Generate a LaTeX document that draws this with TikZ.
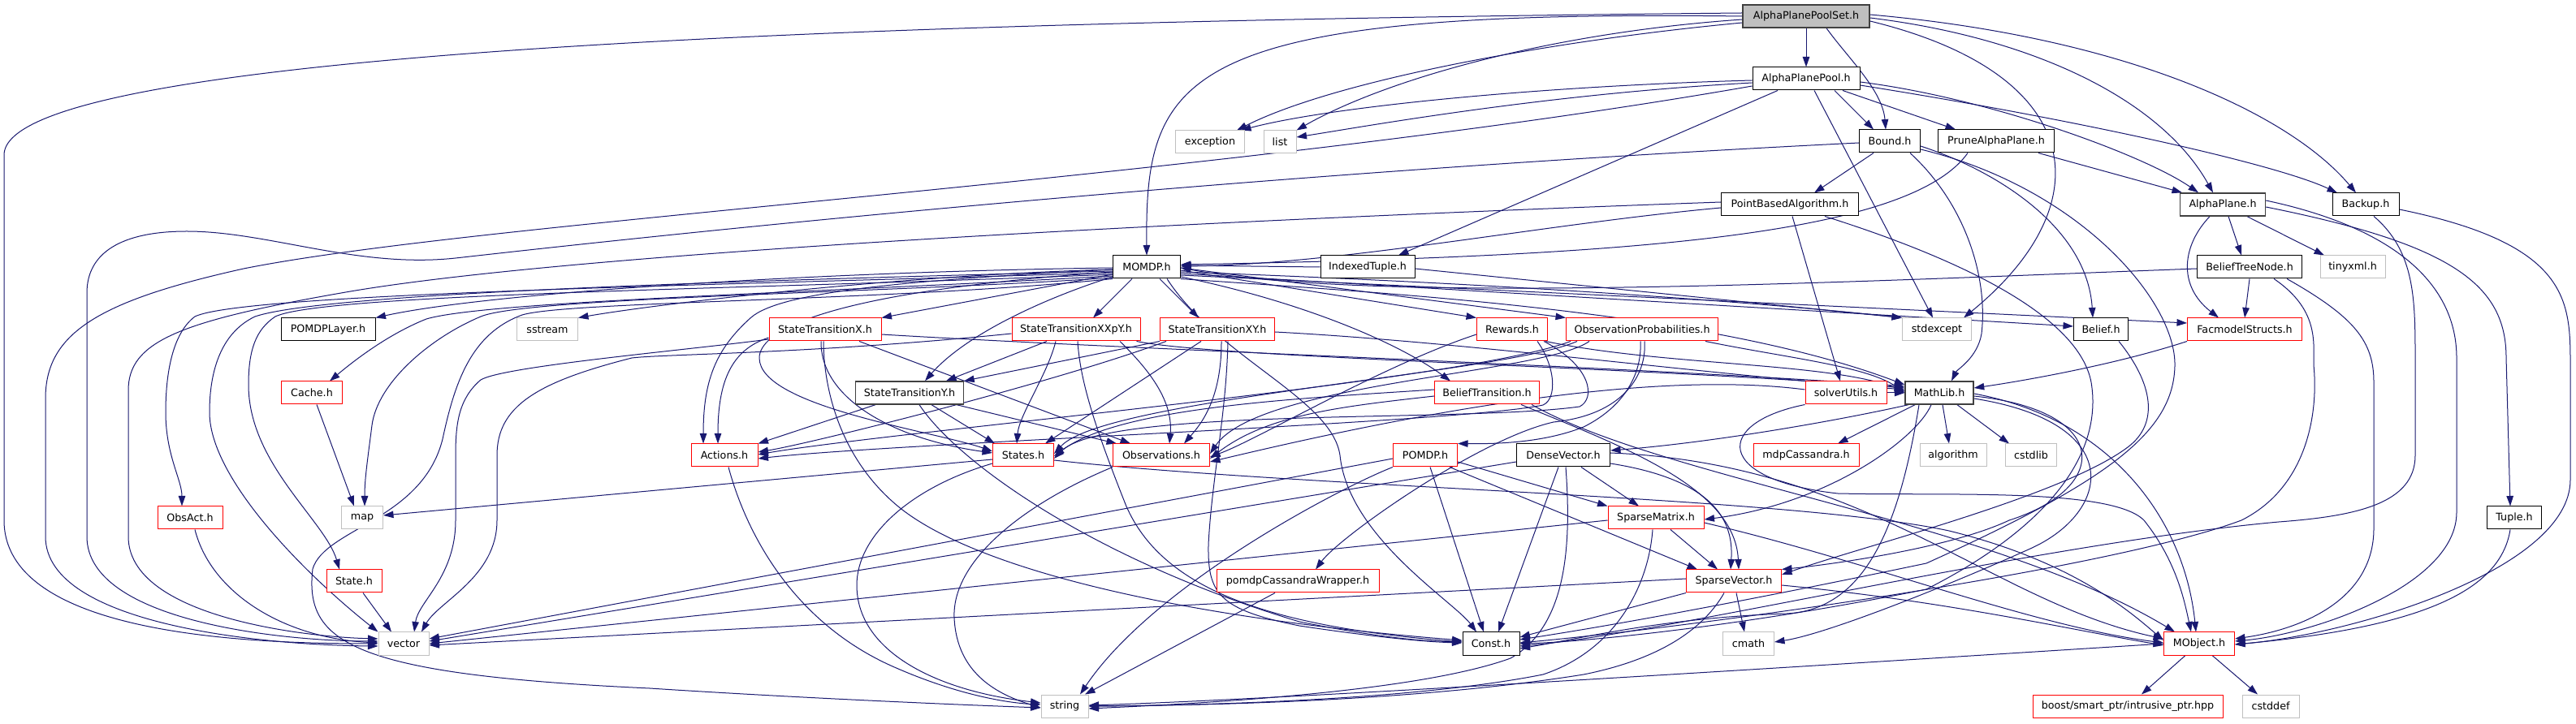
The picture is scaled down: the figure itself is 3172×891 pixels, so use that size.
\documentclass[tikz,border=0pt]{standalone}
\usepackage{fontspec}
\setmainfont{DejaVu Sans}
\usetikzlibrary{arrows.meta}
\definecolor{edgecol}{HTML}{191970}
\definecolor{grayb}{HTML}{BFBFBF}
\definecolor{redb}{HTML}{FF0000}
\definecolor{darkb}{HTML}{404040}
\pgfdeclarelayer{bg}
\pgfsetlayers{bg,main}
\begin{document}
\begin{tikzpicture}[x=1bp,y=1bp,
 box/.style={rectangle, minimum height=28bp, inner xsep=1bp, inner ysep=0bp, fill=white, line width=1bp, font=\fontsize{12.7bp}{15bp}\selectfont, text=black},
 nblk/.style={box, draw=black},
 ndrk/.style={box, draw=darkb, line width=1.4bp},
 nred/.style={box, draw=redb},
 ngry/.style={box, draw=grayb},
 nroot/.style={box, draw=darkb, fill=grayb, line width=1.4bp},
 edg/.style={draw=edgecol, line width=1bp, -{Triangle[length=12.5bp,width=8.5bp]}},
]
\useasboundingbox (0,0) rectangle (3172,891);
% ---------------- nodes ----------------
\node[nroot, minimum width=156bp] (root) at (2224,871) {AlphaPlanePoolSet.h};
\node[nblk, minimum width=132bp] (app) at (2224,794) {AlphaPlanePool.h};
\node[ngry, minimum width=85bp] (exc) at (1490,716) {exception};
\node[ngry, minimum width=40bp] (lst) at (1576,716) {list};
\node[nblk, minimum width=75bp] (bnd) at (2327,717) {Bound.h};
\node[nblk, minimum width=143bp] (pap) at (2458,717) {PruneAlphaPlane.h};
\node[nblk, minimum width=169bp] (pba) at (2204,639) {PointBasedAlgorithm.h};
\node[ndrk, minimum width=105bp] (ap) at (2737,639) {AlphaPlane.h};
\node[nblk, minimum width=82bp] (bk) at (2913,639) {Backup.h};
\node[nblk, minimum width=83bp] (momdp) at (1412,562) {MOMDP.h};
\node[nblk, minimum width=116bp] (itup) at (1684,562) {IndexedTuple.h};
\node[nblk, minimum width=129bp] (btn) at (2770,562) {BeliefTreeNode.h};
\node[ngry, minimum width=80bp] (txml) at (2897,562) {tinyxml.h};
\node[nblk, minimum width=116bp] (pl) at (404,485) {POMDPLayer.h};
\node[ngry, minimum width=75bp] (ss) at (674,485) {sstream};
\node[nred, minimum width=138bp] (stx) at (1016,485) {StateTransitionX.h};
\node[nred, minimum width=158bp] (stxxpy) at (1325,485) {StateTransitionXXpY.h};
\node[nred, minimum width=141bp] (stxy) at (1499,485) {StateTransitionXY.h};
\node[nred, minimum width=87bp] (rew) at (1862,485) {Rewards.h};
\node[nred, minimum width=187bp] (obsp) at (2022,485) {ObservationProbabilities.h};
\node[ngry, minimum width=85bp] (sexc) at (2385,485) {stdexcept};
\node[nblk, minimum width=67bp] (bel) at (2587,485) {Belief.h};
\node[nred, minimum width=141bp] (fac) at (2764,485) {FacmodelStructs.h};
\node[nred, minimum width=75bp] (cache) at (384,407) {Cache.h};
\node[ndrk, minimum width=133bp] (sty) at (1120,407) {StateTransitionY.h};
\node[nred, minimum width=129bp] (bt) at (1831,407) {BeliefTransition.h};
\node[nred, minimum width=100bp] (su) at (2273,407) {solverUtils.h};
\node[ndrk, minimum width=84bp] (ml) at (2388,407) {MathLib.h};
\node[nred, minimum width=82bp] (act) at (892,330) {Actions.h};
\node[nred, minimum width=75bp] (sts) at (1260,330) {States.h};
\node[nred, minimum width=119bp] (obs) at (1430,330) {Observations.h};
\node[nred, minimum width=79bp] (pomdp) at (1755,330) {POMDP.h};
\node[nblk, minimum width=115bp] (dv) at (1925,330) {DenseVector.h};
\node[nred, minimum width=130bp] (mdpc) at (2224,330) {mdpCassandra.h};
\node[ngry, minimum width=82bp] (alg) at (2405,330) {algorithm};
\node[ngry, minimum width=63bp] (cstdlib) at (2501,330) {cstdlib};
\node[nred, minimum width=80bp] (oa) at (234,253) {ObsAct.h};
\node[ngry, minimum width=51bp] (map) at (446,253) {map};
\node[nred, minimum width=118bp] (sm) at (2039,253) {SparseMatrix.h};
\node[nblk, minimum width=67bp] (tup) at (3096,253) {Tuple.h};
\node[nred, minimum width=68bp] (st) at (436,175) {State.h};
\node[nred, minimum width=200bp] (pcw) at (1598,175) {pomdpCassandraWrapper.h};
\node[nred, minimum width=117bp] (sv) at (2135,175) {SparseVector.h};
\node[ngry, minimum width=62bp] (vec) at (497,98) {vector};
\node[nblk, minimum width=70bp] (cst) at (1836,98) {Const.h};
\node[ngry, minimum width=63bp] (cm) at (2153,98) {cmath};
\node[nred, minimum width=87bp] (mo) at (2708,98) {MObject.h};
\node[ngry, minimum width=58bp] (str) at (1311,21) {string};
\node[nred, minimum width=234bp] (boost) at (2620,21) {boost/smart\_ptr/intrusive\_ptr.hpp};
\node[ngry, minimum width=70bp] (cdf) at (2796,21) {cstddef};
% ---------------- edges ----------------
\begin{pgfonlayer}{bg}
\fill[white] (0,0) rectangle (3172,891);
% root
\draw[edg] (root) -- (app);
\draw[edg] ([xshift=25bp]root.south) .. controls (2275,820) and (2318,780) .. ([xshift=-5bp]bnd.north);
\draw[edg] ([yshift=-8bp]root.west) .. controls (1900,840) and (1640,790) .. ([xshift=-10bp]exc.north east);
\draw[edg] ([yshift=-4bp]root.west) .. controls (1900,850) and (1700,790) .. (lst.north east);
\draw[edg] (root.west) .. controls (1450,880) and (1410,800) .. (momdp.north);
\draw[edg] ([yshift=4bp]root.west) .. controls (1100,865) and (5,830) .. (5,700) -- (5,250) .. controls (5,110) and (300,98) .. (vec.west);
\draw[edg] ([yshift=-6bp]root.east) .. controls (2570,800) and (2590,640) .. ([xshift=-10bp]sexc.north east);
\draw[edg] ([yshift=-2bp]root.east) .. controls (2500,845) and (2660,770) .. ([xshift=-12bp]ap.north);
\draw[edg] ([yshift=2bp]root.east) .. controls (2620,845) and (2820,750) .. ([xshift=-12bp]bk.north);
% app
\draw[edg] ([xshift=35bp]app.south) -- ([xshift=-20bp]bnd.north);
\draw[edg] ([yshift=-2bp]app.west) .. controls (1900,785) and (1640,760) .. ([xshift=-5bp]exc.north east);
\draw[edg] ([yshift=-5bp]app.west) .. controls (1900,775) and (1680,735) .. ([yshift=6bp]lst.east);
\draw[edg] ([yshift=-9bp]app.west) .. controls (1500,670) and (600,620) .. (300,560) .. controls (120,520) and (56,480) .. (56,400) -- (56,230) .. controls (56,120) and (330,96) .. ([yshift=-3bp]vec.west);
\draw[edg] ([xshift=10bp]app.south) -- ([xshift=-5bp]sexc.north);
\draw[edg] ([xshift=45bp]app.south) -- ([xshift=-50bp]pap.north);
\draw[edg] ([yshift=-4bp]app.east) .. controls (2450,770) and (2640,700) .. ([xshift=-30bp]ap.north);
\draw[edg] ([yshift=-8bp]app.east) .. controls (2550,745) and (2800,690) .. ([xshift=-35bp]bk.north);
\draw[edg] ([xshift=-35bp]app.south) -- ([xshift=38bp]itup.north);
% bnd
\draw[edg] ([xshift=-20bp]bnd.south) -- ([xshift=30bp]pba.north);
\draw[edg] ([yshift=-2bp]bnd.west) .. controls (1500,676) and (800,600) .. (561,573) .. controls (440,560) and (330,606) .. (230,606) .. controls (150,606) and (107,580) .. (107,530) -- (107,230) .. controls (107,125) and (350,101) .. ([yshift=3bp]vec.west);
\draw[edg] ([yshift=-6bp]bnd.east) .. controls (2460,680) and (2570,610) .. ([xshift=-10bp]bel.north);
\draw[edg] ([xshift=25bp]bnd.south) .. controls (2420,640) and (2448,550) .. (2440,480) .. controls (2435,450) and (2410,436) .. ([xshift=15bp]ml.north);
\draw[edg] ([yshift=-10bp]bnd.east) .. controls (2560,660) and (2680,520) .. (2678,440) .. controls (2676,360) and (2600,300) .. (2372,197) .. controls (2100,140) and (1950,115) .. ([yshift=5bp]cst.east);
% pap
\draw[edg] ([xshift=-35bp]pap.south) .. controls (2350,600) and (2000,575) .. ([yshift=3bp]momdp.east);
\draw[edg] ([xshift=52bp]pap.south) -- ([xshift=-50bp]ap.north);
% pba
\draw[edg] ([yshift=-4bp]pba.west) .. controls (1900,615) and (1650,565) .. ([yshift=1bp]momdp.east);
\draw[edg] ([yshift=3bp]pba.west) .. controls (1500,620) and (700,580) .. (420,530) .. controls (220,495) and (158,470) .. (158,410) -- (158,230) .. controls (158,130) and (380,106) .. ([yshift=6bp]vec.west);
\draw[edg] ([xshift=3bp]pba.south) -- ([xshift=-7bp]su.north);
\draw[edg] ([xshift=43bp]pba.south) .. controls (2420,570) and (2560,500) .. (2575,420) .. controls (2590,330) and (2520,240) .. (2372,165) .. controls (2150,120) and (1950,100) .. (cst.east);
% ap
\draw[edg] ([xshift=7bp]ap.south) -- ([xshift=-10bp]btn.north);
\draw[edg] ([xshift=30bp]ap.south) -- ([xshift=-35bp]txml.north);
\draw[edg] ([xshift=-16bp]ap.south) .. controls (2688,590) and (2680,540) .. ([xshift=-32bp]fac.north);
\draw[edg] ([yshift=5bp]ap.east) .. controls (2950,610) and (3025,540) .. (3025,450) -- (3025,260) .. controls (3025,170) and (2850,110) .. ([yshift=3bp]mo.east);
\draw[edg] ([yshift=-3bp]ap.east) .. controls (3020,590) and (3086,540) .. (3086,450) -- ([xshift=-5bp]tup.north);
% bk
\draw[edg] ([yshift=-6bp]bk.east) .. controls (3165,590) and (3165,520) .. (3165,440) -- (3165,300) .. controls (3165,190) and (2900,110) .. ([yshift=-1bp]mo.east);
\draw[edg] ([xshift=10bp]bk.south) .. controls (2975,580) and (2974,520) .. (2974,441) -- (2974,330) .. controls (2974,270) and (2900,255) .. (2806,248) .. controls (2500,220) and (2050,110) .. ([yshift=-3bp]cst.east);
% btn
\draw[edg] ([yshift=-2bp]btn.west) .. controls (2300,545) and (1700,515) .. ([yshift=-1bp]momdp.east);
\draw[edg] (btn.south) -- (fac.north);
\draw[edg] ([xshift=30bp]btn.south) .. controls (2855,510) and (2849,470) .. (2849,441) .. controls (2855,380) and (2840,290) .. (2760,250) .. controls (2600,190) and (2100,120) .. ([yshift=1bp]cst.east);
\draw[edg] ([xshift=46bp]btn.south) .. controls (2900,500) and (2923,470) .. (2923,420) -- (2923,240) .. controls (2923,150) and (2830,115) .. ([yshift=6bp]mo.east);
% momdp
\draw[edg] ([yshift=-1bp]momdp.west) .. controls (1000,556) and (600,530) .. (pl.north east);
\draw[edg] ([yshift=-3bp]momdp.west) .. controls (1100,552) and (800,515) .. (ss.north east);
\draw[edg] ([yshift=-5bp]momdp.west) .. controls (900,545) and (400,530) .. (314,501) .. controls (270,480) and (258,430) .. (258,383) .. controls (258,300) and (380,180) .. (vec.north west);
\draw[edg] ([yshift=-7bp]momdp.west) .. controls (900,540) and (300,530) .. (240,501) .. controls (212,480) and (204,430) .. (204,383) .. controls (204,330) and (224,300) .. ([xshift=-10bp]oa.north);
\draw[edg] ([yshift=-9bp]momdp.west) .. controls (950,535) and (400,530) .. (339,501) .. controls (315,485) and (306,460) .. (306,417) .. controls (306,320) and (400,250) .. ([xshift=-18bp]st.north);
\draw[edg] ([yshift=-11bp]momdp.west) .. controls (1000,530) and (600,520) .. (525,498) .. controls (480,480) and (440,450) .. ([xshift=22bp]cache.north);
\draw[edg] ([yshift=-13bp]momdp.west) .. controls (1100,530) and (650,525) .. (592,501) .. controls (530,475) and (465,420) .. (458,367) .. controls (452,320) and (449,300) .. ([xshift=3bp]map.north);
\draw[edg] (momdp.south west) .. controls (1100,520) and (700,520) .. (643,503) .. controls (580,480) and (560,420) .. (545,350) .. controls (520,250) and (400,240) .. (385,190) .. controls (375,100) and (430,60) .. (800,43) .. controls (1000,30) and (1200,22) .. ([yshift=-2bp]str.west);
\draw[edg] ([yshift=-9bp]momdp.west) -- (stx.north east);
\draw[edg] ([xshift=-18bp]momdp.south) -- ([xshift=21bp]stxxpy.north);
\draw[edg] ([xshift=16bp]momdp.south) -- ([xshift=-23bp]stxy.north);
\draw[edg] ([yshift=-12bp]momdp.west) .. controls (1290,525) and (1190,480) .. ([xshift=19bp]sty.north);
\draw[edg] ([yshift=-3bp]momdp.west) .. controls (1100,545) and (960,530) .. (925,500) .. controls (880,460) and (866,420) .. ([xshift=-26bp]act.north);
\draw[edg] ([yshift=-6bp]momdp.west) .. controls (1000,530) and (935,480) .. (935,450) .. controls (935,390) and (1150,360) .. ([yshift=5bp]sts.west);
\draw[edg] ([yshift=-4bp]momdp.east) -- (rew.north west);
\draw[edg] ([yshift=-1bp]momdp.east) -- (obsp.north west);
\draw[edg] ([yshift=-6bp]momdp.east) .. controls (1900,540) and (2200,515) .. (sexc.north west);
\draw[edg] ([yshift=-8bp]momdp.east) -- ([yshift=4bp]bel.west);
\draw[edg] ([yshift=-10bp]momdp.east) -- ([yshift=8bp]fac.west);
\draw[edg] ([yshift=-12bp]momdp.east) .. controls (1600,520) and (1720,470) .. ([xshift=-45bp]bt.north);
\draw[edg] (momdp.south east) .. controls (1700,530) and (2100,510) .. ([yshift=10bp]ml.west);
\draw[edg] ([xshift=25bp]momdp.south) .. controls (1500,450) and (1640,400) .. (1650,330) .. controls (1660,230) and (1790,150) .. ([xshift=-18bp]cst.north);
% itup
\draw[edg] (itup.west) -- ([yshift=2bp]momdp.east);
\draw[edg] ([yshift=-2bp]itup.east) -- (sexc.north west);
% stx
\draw[edg] ([yshift=-10bp]stx.west) .. controls (900,460) and (884,420) .. ([xshift=-8bp]act.north);
\draw[edg] ([xshift=-5bp]stx.south) .. controls (1010,400) and (1100,350) .. ([yshift=3bp]sts.west);
\draw[edg] ([xshift=42bp]stx.south) -- ([xshift=-38bp]obs.north);
\draw[edg] ([yshift=-6bp]stx.east) .. controls (1400,460) and (2000,440) .. ([yshift=8bp]ml.west);
\draw[edg] ([xshift=-2bp]stx.south) .. controls (1014,420) and (1030,330) .. (1106,267) .. controls (1200,190) and (1450,130) .. ([yshift=4bp]cst.west);
\draw[edg] ([yshift=-12bp]stx.west) .. controls (850,460) and (620,440) .. (592,423) .. controls (565,400) and (561,370) .. (561,330) -- (561,250) .. controls (561,180) and (515,150) .. ([xshift=13bp]vec.north);
% stxxpy
\draw[edg] ([xshift=-36bp]stxxpy.south) -- ([xshift=45bp]sty.north);
\draw[edg] ([xshift=-25bp]stxxpy.south) .. controls (1290,430) and (1255,380) .. ([xshift=-8bp]sts.north);
\draw[edg] ([xshift=54bp]stxxpy.south) .. controls (1410,440) and (1445,400) .. ([xshift=10bp]obs.north);
\draw[edg] ([xshift=-5bp]stxxpy.south east) .. controls (1500,450) and (2000,440) .. ([yshift=6bp]ml.west);
\draw[edg] ([xshift=2bp]stxxpy.south) .. controls (1330,420) and (1350,360) .. (1387,267) .. controls (1430,170) and (1550,120) .. ([yshift=2bp]cst.west);
\draw[edg] ([yshift=-5bp]stxxpy.west) .. controls (1000,455) and (820,455) .. (778,450) .. controls (660,420) and (612,390) .. (612,330) -- (612,250) .. controls (612,180) and (540,150) .. ([xshift=22bp]vec.north);
% stxy
\draw[edg] (stxy.south west) -- (sty.north east);
\draw[edg] ([xshift=-20bp]stxy.south) -- ([xshift=27bp]sts.north);
\draw[edg] ([xshift=5bp]stxy.south) .. controls (1504,400) and (1480,370) .. ([xshift=28bp]obs.north);
\draw[edg] ([xshift=13bp]stxy.south) .. controls (1510,380) and (1492,300) .. (1488,220) .. controls (1487,160) and (1500,140) .. (1600,120) .. controls (1700,105) and (1760,100) .. ([yshift=1bp]cst.west);
\draw[edg] ([yshift=-3bp]stxy.east) .. controls (1800,470) and (2100,430) .. ([yshift=4bp]ml.west);
\draw[edg] ([xshift=8bp]stxy.south west) .. controls (1300,420) and (1000,345) .. ([yshift=4bp]act.east);
% sty
\draw[edg] ([xshift=-42bp]sty.south) -- (act.north east);
\draw[edg] ([xshift=27bp]sty.south) -- ([xshift=-35bp]sts.north);
\draw[edg] ([xshift=58bp]sty.south) -- ([xshift=-55bp]obs.north);
\draw[edg] ([xshift=12bp]sty.south) .. controls (1180,320) and (1350,200) .. (1600,125) .. controls (1700,105) and (1760,100) .. ([yshift=3bp]cst.west);
% rew
\draw[edg] ([xshift=31bp]rew.south) .. controls (1915,440) and (1918,400) .. (1900,392) .. controls (1800,370) and (1100,345) .. ([yshift=-4bp]act.east);
\draw[edg] ([xshift=39bp]rew.south) .. controls (1960,440) and (1965,400) .. (1945,390) .. controls (1800,370) and (1360,390) .. ([yshift=-4bp]sts.east);
\draw[edg] ([yshift=-6bp]rew.west) .. controls (1700,440) and (1550,350) .. ([yshift=-2bp]obs.east);
\draw[edg] ([xshift=-3bp]rew.south east) .. controls (2050,440) and (2250,445) .. ([yshift=2bp]ml.west);
% obsp
\draw[edg] ([xshift=-2bp]obsp.south) .. controls (2022,430) and (2000,390) .. (1950,365) .. controls (1900,345) and (1840,344) .. (pomdp.north east);
\draw[edg] ([xshift=3bp]obsp.south) .. controls (2028,430) and (2000,380) .. (1913,371) .. controls (1820,350) and (1650,230) .. ([xshift=22bp]pcw.north);
\draw[edg] ([xshift=-65bp]obsp.south) .. controls (1900,430) and (1550,420) .. ([yshift=2bp]obs.east);
\draw[edg] ([xshift=-80bp]obsp.south) .. controls (1850,430) and (1360,400) .. ([yshift=2bp]sts.east);
\draw[edg] ([xshift=-88bp]obsp.south) .. controls (1800,420) and (1100,360) .. ([yshift=1bp]act.east);
\draw[edg] ([xshift=78bp]obsp.south) .. controls (2200,450) and (2300,440) .. (ml.west);
% bt
\draw[edg] ([yshift=-4bp]bt.west) .. controls (1650,390) and (1560,380) .. ([yshift=-4bp]obs.east);
\draw[edg] ([yshift=4bp]bt.west) .. controls (1600,400) and (1380,390) .. ([yshift=-1bp]sts.east);
\draw[edg] ([xshift=42bp]bt.south) .. controls (2000,340) and (2136,290) .. ([xshift=6bp]sv.north);
\draw[edg] ([xshift=55bp]bt.south) .. controls (2050,300) and (2450,250) .. ([xshift=-30bp]mo.north);
% su
\draw[edg] (su.east) -- (ml.west);
\draw[edg] (su.south west) .. controls (2110,370) and (2110,300) .. (2263,283) .. controls (2400,280) and (2600,290) .. (2640,250) .. controls (2680,200) and (2690,150) .. ([xshift=-10bp]mo.north);
\draw[edg] ([yshift=4bp]su.west) .. controls (2000,440) and (1650,360) .. ([yshift=-8bp]obs.east);
% ml
\draw[edg] ([xshift=-30bp]ml.south) -- ([xshift=39bp]mdpc.north);
\draw[edg] ([xshift=4bp]ml.south) -- ([xshift=-5bp]alg.north);
\draw[edg] ([xshift=22bp]ml.south) -- ([xshift=-27bp]cstdlib.north);
\draw[edg] ([xshift=-38bp]ml.south) .. controls (2250,370) and (2100,345) .. ([yshift=6bp]dv.east);
\draw[edg] ([xshift=-10bp]ml.south) .. controls (2360,350) and (2250,270) .. ([yshift=-2bp]sm.east);
\draw[edg] ([yshift=-4bp]ml.east) .. controls (2600,385) and (2600,290) .. (2474,250) .. controls (2400,215) and (2250,195) .. (sv.north east);
\draw[edg] ([yshift=-7bp]ml.east) .. controls (2620,370) and (2600,260) .. (2500,215) .. controls (2400,170) and (2250,110) .. ([yshift=2bp]cm.east);
\draw[edg] ([yshift=-1bp]ml.east) .. controls (2600,375) and (2690,250) .. ([xshift=-4bp]mo.north);
\draw[edg] ([xshift=-25bp]ml.south) .. controls (2340,250) and (2300,140) .. (2200,135) .. controls (2050,130) and (1950,105) .. ([yshift=-6bp]cst.east);
% act, sts, obs
\draw[edg] ([xshift=5bp]act.south) .. controls (920,230) and (980,120) .. (1106,67) .. controls (1180,35) and (1240,25) .. ([yshift=2bp]str.west);
\draw[edg] ([yshift=-5bp]sts.west) -- ([yshift=3bp]map.east);
\draw[edg] ([yshift=-10bp]sts.west) .. controls (1120,290) and (1055,230) .. (1055,170) .. controls (1055,90) and (1150,40) .. ([yshift=4bp]str.west);
\draw[edg] ([yshift=-6bp]sts.east) .. controls (1600,290) and (2200,280) .. (2400,237) .. controls (2550,200) and (2620,140) .. ([yshift=4bp]mo.west);
\draw[edg] (obs.south west) .. controls (1260,270) and (1172,200) .. (1175,130) .. controls (1178,60) and (1230,35) .. ([yshift=-2bp]str.west);
% pomdp
\draw[edg] ([yshift=-8bp]pomdp.east) -- (sm.north west);
\draw[edg] ([xshift=30bp]pomdp.south) -- ([xshift=-45bp]sv.north);
\draw[edg] ([xshift=6bp]pomdp.south) -- ([xshift=-9bp]cst.north);
\draw[edg] ([yshift=-4bp]pomdp.west) -- ([yshift=6bp]vec.east);
\draw[edg] (pomdp.south west) .. controls (1650,290) and (1420,170) .. ([xshift=19bp]str.north);
% dv
\draw[edg] ([xshift=22bp]dv.south) -- ([xshift=-21bp]sm.north);
\draw[edg] ([yshift=-10bp]dv.east) .. controls (2110,300) and (2135,250) .. ([xshift=-4bp]sv.north);
\draw[edg] ([xshift=-6bp]dv.south) -- ([xshift=9bp]cst.north);
\draw[edg] ([yshift=-8bp]dv.west) -- ([yshift=3bp]vec.east);
\draw[edg] ([xshift=3bp]dv.south) .. controls (1935,220) and (1930,120) .. (1860,80) .. controls (1750,40) and (1500,25) .. ([yshift=-3bp]str.east);
\draw[edg] ([yshift=3bp]dv.east) .. controls (2300,320) and (2450,150) .. ([yshift=6bp]mo.west);
% sm
\draw[edg] ([xshift=18bp]sm.south) -- ([xshift=-20bp]sv.north);
\draw[edg] ([yshift=-3bp]sm.west) -- (vec.east);
\draw[edg] ([xshift=-4bp]sm.south) .. controls (2030,170) and (1990,90) .. (1900,60) .. controls (1750,30) and (1500,22) .. (str.east);
\draw[edg] ([yshift=-6bp]sm.east) .. controls (2300,200) and (2500,120) .. ([yshift=1bp]mo.west);
% sv
\draw[edg] (sv.south west) -- ([yshift=8bp]cst.east);
\draw[edg] ([xshift=3bp]sv.south) -- ([xshift=-5bp]cm.north);
\draw[edg] ([yshift=3bp]sv.west) -- ([yshift=-2bp]vec.east);
\draw[edg] ([xshift=-12bp]sv.south) .. controls (2100,120) and (2050,80) .. (1950,60) .. controls (1750,28) and (1500,22) .. (str.east);
\draw[edg] ([yshift=-5bp]sv.east) .. controls (2400,150) and (2550,115) .. ([yshift=-2bp]mo.west);
% others
\draw[edg] ([xshift=-28bp]pcw.south) -- ([xshift=25bp]str.north);
\draw[edg] ([xshift=6bp]oa.south) .. controls (260,160) and (350,105) .. ([yshift=1bp]vec.west);
\draw[edg] ([xshift=11bp]st.south) -- ([xshift=-15bp]vec.north);
\draw[edg] ([xshift=6bp]cache.south) -- ([xshift=-10bp]map.north);
\draw[edg] ([xshift=-5bp]tup.south) .. controls (3080,170) and (3000,120) .. ([yshift=-1bp]mo.east);
\draw[edg] ([xshift=-17bp]mo.south) -- ([xshift=17bp]boost.north);
\draw[edg] ([xshift=16bp]mo.south) -- ([xshift=-16bp]cdf.north);
\draw[edg] (mo.west) .. controls (2300,75) and (1600,30) .. ([yshift=1bp]str.east);
\draw[edg] (fac.south west) .. controls (2600,440) and (2480,420) .. ([yshift=6bp]ml.east);
\draw[edg] ([xshift=22bp]bel.south) .. controls (2650,420) and (2660,370) .. (2620,340) .. controls (2540,280) and (2300,220) .. ([yshift=8bp]sv.east);
\end{pgfonlayer}
\end{tikzpicture}
\end{document}
